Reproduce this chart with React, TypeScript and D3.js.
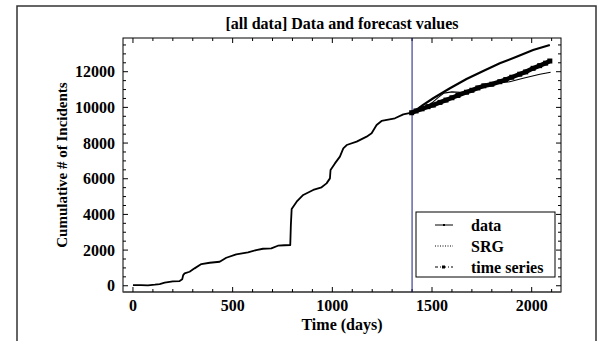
import React from 'react';
import * as d3 from 'd3';

// observed cumulative incidents (day, count)
const dataDays = [0, 40, 75, 110, 134, 159, 200, 234, 247, 252, 259, 284, 309, 343, 385, 435, 468, 518, 577, 618, 652, 694, 727, 760, 789, 792, 796, 821, 854, 904, 946, 971, 988, 991, 1013, 1038, 1055, 1072, 1122, 1172, 1197, 1222, 1247, 1314, 1356, 1398, 1450, 1500, 1530, 1560, 1600, 1640, 1680, 1750, 1800, 1830, 1890, 1957, 2041, 2095];
const dataValues = [40, 30, 20, 60, 95, 170, 245, 265, 360, 600, 695, 785, 975, 1215, 1290, 1345, 1570, 1760, 1870, 2000, 2075, 2095, 2245, 2270, 2280, 3400, 4300, 4710, 5090, 5370, 5520, 5740, 6020, 6490, 6860, 7240, 7700, 7890, 8080, 8360, 8550, 9010, 9240, 9390, 9610, 9700, 9960, 10250, 10550, 10800, 10870, 10840, 10880, 11150, 11300, 11360, 11440, 11630, 11860, 11970];

// SRG forecast
const srgDays = [1398, 1450, 1506, 1590, 1673, 1757, 1840, 1924, 2007, 2091];
const srgValues = [9670, 10100, 10510, 11070, 11590, 12040, 12470, 12840, 13220, 13500];

// time series forecast
const tsDays = [1398, 1420, 1450, 1480, 1506, 1540, 1570, 1600, 1630, 1673, 1700, 1730, 1760, 1800, 1840, 1870, 1900, 1940, 1970, 2007, 2040, 2070, 2091];
const tsValues = [9700, 9800, 9920, 10040, 10130, 10280, 10410, 10540, 10670, 10850, 10960, 11090, 11210, 11300, 11440, 11560, 11690, 11860, 11990, 12190, 12340, 12480, 12600];

const xMajor = [0, 500, 1000, 1500, 2000];
const yMajor = [0, 2000, 4000, 6000, 8000, 10000, 12000];
const forecastStart = 1400;

const FONT = '"Liberation Serif", "Times New Roman", serif';

export default function App() {
  const left = 123, right = 561, top = 38, bottom = 292;
  const x = d3.scaleLinear().domain([-50, 2147]).range([left, right]);
  const y = d3.scaleLinear().domain([-350, 13890]).range([bottom, top]);

  const line = d3.line<[number, number]>().x(d => x(d[0])).y(d => y(d[1]));
  const dataPts = dataDays.map((d, i) => [d, dataValues[i]] as [number, number]);
  const pastPts = dataPts.filter(p => p[0] <= forecastStart);
  const futurePts = dataPts.filter(p => p[0] >= 1398);
  const srgPts = srgDays.map((d, i) => [d, srgValues[i]] as [number, number]);
  const tsPts = tsDays.map((d, i) => [d, tsValues[i]] as [number, number]);

  const xMinor = d3.range(0, 2101, 100);
  const yMinor = d3.range(0, 13501, 500);

  const tickStyle = { stroke: '#000', strokeWidth: 1 };
  const fs = 16;

  return (
    <svg width={601} height={341} style={{ position: 'absolute', left: 0, top: 0, background: '#fff' }}
      fontFamily={FONT}>
      <rect x={17} y={6} width={579} height={345} fill="#fff" stroke="#333" strokeWidth={1.5} />
      <text x={(left + right) / 2} y={29} textAnchor="middle" fontSize={fs} fontWeight="bold">
        [all data] Data and forecast values
      </text>

      {/* frame */}
      <rect x={left} y={top} width={right - left} height={bottom - top} fill="none" stroke="#000" strokeWidth={1} />
      <line x1={left} x2={right} y1={bottom} y2={bottom} stroke="#555" strokeWidth={1.5} />

      {xMinor.map(v => {
        const len = xMajor.includes(v) ? 5 : 3;
        return (
          <g key={'xm' + v}>
            <line x1={x(v)} x2={x(v)} y1={bottom} y2={bottom - len} {...tickStyle} />
            <line x1={x(v)} x2={x(v)} y1={top} y2={top + len} {...tickStyle} />
          </g>
        );
      })}
      {yMinor.map(v => {
        const len = yMajor.includes(v) ? 5 : 3;
        return (
          <g key={'ym' + v}>
            <line x1={left} x2={left + len} y1={y(v)} y2={y(v)} {...tickStyle} />
            <line x1={right} x2={right - len} y1={y(v)} y2={y(v)} {...tickStyle} />
          </g>
        );
      })}

      {xMajor.map(v => (
        <text key={'xl' + v} x={x(v)} y={bottom + 19} textAnchor="middle" fontSize={fs} fontWeight="bold">{v}</text>
      ))}
      {yMajor.map(v => (
        <text key={'yl' + v} x={left - 8} y={y(v)} dy="0.35em" textAnchor="end" fontSize={fs} fontWeight="bold">{v}</text>
      ))}

      <text x={(left + right) / 2} y={330} textAnchor="middle" fontSize={fs} fontWeight="bold">Time (days)</text>
      <text transform={`translate(67,${(top + bottom) / 2}) rotate(-90)`} textAnchor="middle" fontSize={15} fontWeight="bold">
        Cumulative # of Incidents
      </text>

      {/* forecast start marker */}
      <line x1={x(forecastStart)} x2={x(forecastStart)} y1={top} y2={bottom} stroke="#1a1a80" strokeWidth={1} />

      {/* series */}
      <path d={line(srgPts) ?? ''} fill="none" stroke="#000" strokeWidth={2.2} />
      <path d={line(tsPts) ?? ''} fill="none" stroke="#000" strokeWidth={4.5} />
      {tsPts.map((p, i) => (
        <rect key={'ts' + i} x={x(p[0]) - 2.5} y={y(p[1]) - 2.5} width={5} height={5} fill="#000" />
      ))}
      <path d={line(pastPts) ?? ''} fill="none" stroke="#000" strokeWidth={1.8} strokeLinejoin="round" />
      <path d={line(futurePts) ?? ''} fill="none" stroke="#000" strokeWidth={1.1} strokeLinejoin="round" />

      {/* legend */}
      <g>
        <rect x={416} y={212} width={139} height={65} fill="#fff" stroke="#000" strokeWidth={1} />
        <line x1={435} x2={453} y1={225} y2={225} stroke="#000" strokeWidth={1} />
        <rect x={443} y={224} width={2} height={2} fill="#000" />
        <text x={471} y={225} dy="0.35em" fontSize={fs} fontWeight="bold">data</text>
        <line x1={435} x2={453} y1={246} y2={246} stroke="#000" strokeWidth={1} strokeDasharray="1,1.5" />
        <text x={471} y={246} dy="0.35em" fontSize={fs} fontWeight="bold">SRG</text>
        <line x1={435} x2={453} y1={267} y2={267} stroke="#000" strokeWidth={1} strokeDasharray="3,2,1,2" />
        <rect x={442} y={265.5} width={3} height={3} fill="#000" />
        <text x={471} y={267} dy="0.35em" fontSize={fs} fontWeight="bold">time series</text>
      </g>
    </svg>
  );
}
